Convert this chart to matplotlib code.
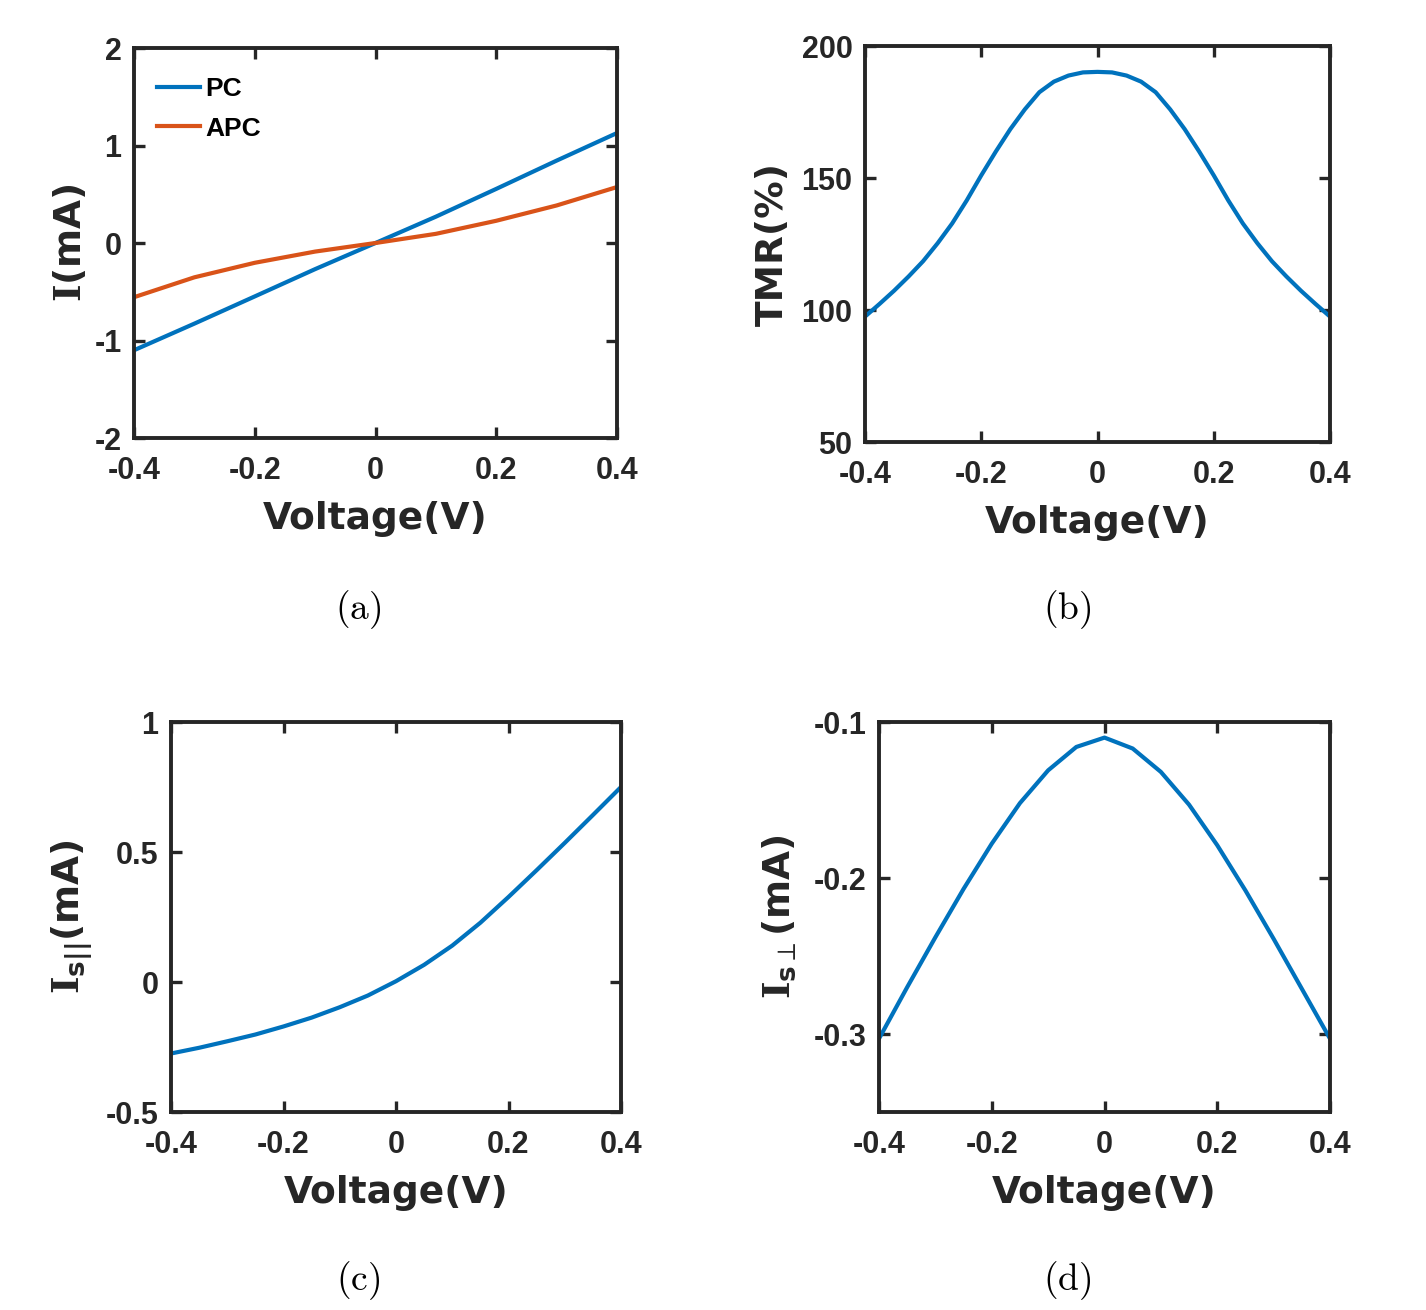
import matplotlib
matplotlib.use("Agg")
import matplotlib.pyplot as plt

# ---------------- data ----------------
v_a = [-0.4, -0.3, -0.2, -0.1, 0.0, 0.1, 0.2, 0.3, 0.4]
i_pc = [-1.10, -0.827, -0.548, -0.268, 0.0, 0.270, 0.555, 0.845, 1.128]
i_apc = [-0.556, -0.352, -0.203, -0.088, 0.0, 0.094, 0.228, 0.385, 0.574]

v_b = [-0.4, -0.375, -0.35, -0.325, -0.3, -0.275, -0.25, -0.225, -0.2,
       -0.175, -0.15, -0.125, -0.1, -0.075, -0.05, -0.025, 0.0,
       0.025, 0.05, 0.075, 0.1, 0.125, 0.15, 0.175, 0.2,
       0.225, 0.25, 0.275, 0.3, 0.325, 0.35, 0.375, 0.4]
tmr = [97.5, 102.3, 107.3, 112.7, 118.5, 125.3, 132.8, 141.5, 151.0,
       160.0, 168.5, 176.0, 182.5, 186.5, 188.8, 190.0, 190.2,
       190.0, 188.8, 186.5, 182.5, 176.0, 168.5, 160.0, 151.0,
       141.5, 132.8, 125.3, 118.5, 112.7, 107.3, 102.3, 97.5]

v_fine = [-0.4, -0.35, -0.3, -0.25, -0.2, -0.15, -0.1, -0.05, 0.0,
          0.05, 0.1, 0.15, 0.2, 0.25, 0.3, 0.35, 0.4]
is_par = [-0.275, -0.253, -0.228, -0.202, -0.171, -0.137, -0.097, -0.052, 0.003,
          0.066, 0.140, 0.228, 0.327, 0.430, 0.535, 0.642, 0.750]
is_perp = [-0.303, -0.270, -0.238, -0.207, -0.178, -0.152, -0.131, -0.116, -0.110,
           -0.117, -0.132, -0.153, -0.179, -0.208, -0.239, -0.271, -0.303]

x_ticks = [-0.4, -0.2, 0.0, 0.2, 0.4]
x_ticklabels = ["-0.4", "-0.2", "0", "0.2", "0.4"]
a_yticks = [-2, -1, 0, 1, 2]
a_yticklabels = ["-2", "-1", "0", "1", "2"]
b_yticks = [50, 100, 150, 200]
b_yticklabels = ["50", "100", "150", "200"]
c_yticks = [-0.5, 0.0, 0.5, 1.0]
c_yticklabels = ["-0.5", "0", "0.5", "1"]
d_yticks = [-0.3, -0.2, -0.1]
d_yticklabels = ["-0.3", "-0.2", "-0.1"]

legend_labels = ["PC", "APC"]
captions = ["(a)", "(b)", "(c)", "(d)"]

# ---------------- style ----------------
BLUE = "#0072BD"
ORANGE = "#D95319"
AXC = "#262626"
LW = 3.0

plt.rcParams["mathtext.fontset"] = "custom"
plt.rcParams["mathtext.bf"] = "DejaVu Serif:bold"
plt.rcParams["mathtext.sf"] = "DejaVu Sans:bold"
plt.rcParams["mathtext.rm"] = "DejaVu Sans:bold"

W, H = 1426, 1310
fig = plt.figure(figsize=(W / 100, H / 100), dpi=100)


def ax_at(l, t, r, b):
    return fig.add_axes([l / W, 1 - b / H, (r - l) / W, (b - t) / H])


tick_font = dict(family="Liberation Sans", weight="bold", size=22)
label_font = dict(family="DejaVu Sans", weight="bold", size=27)


def style(ax, xlim, ylim, yt, ytl, ylabel, ylabelpad=8):
    ax.set_xlim(*xlim)
    ax.set_ylim(*ylim)
    ax.set_xticks(x_ticks)
    ax.set_xticklabels(x_ticklabels, fontdict=tick_font, color=AXC)
    ax.set_yticks(yt)
    ax.set_yticklabels(ytl, fontdict=tick_font, color=AXC)
    for s in ax.spines.values():
        s.set_linewidth(2.8)
        s.set_color(AXC)
    ax.tick_params(direction="in", length=8, width=2.4, color=AXC,
                   top=True, right=True)
    ax.tick_params(axis="x", pad=13)
    ax.tick_params(axis="y", pad=9)
    ax.set_xlabel("Voltage(V)", fontdict=label_font, color=AXC, labelpad=11)
    ax.set_ylabel(ylabel, fontdict=label_font, color=AXC, labelpad=ylabelpad,
                  math_fontfamily="custom")


# (a)
ax1 = ax_at(134, 48, 617, 438)
ax1.plot(v_a, i_pc, color=BLUE, lw=LW, label=legend_labels[0])
ax1.plot(v_a, i_apc, color=ORANGE, lw=LW, label=legend_labels[1])
style(ax1, (-0.4, 0.4), (-2, 2), a_yticks, a_yticklabels, r"$\mathbf{I}$(mA)",
      ylabelpad=4)
ax1.legend(loc="upper left", bbox_to_anchor=(0.047, 0.925), frameon=False,
           handlelength=1.63, handletextpad=0.2, labelspacing=0.58,
           borderpad=0.0, borderaxespad=0.0,
           prop=dict(family="Liberation Sans", weight="bold", size=19))

# (b)
ax2 = ax_at(865, 46, 1330, 442)
ax2.plot(v_b, tmr, color=BLUE, lw=LW)
style(ax2, (-0.4, 0.4), (50, 200), b_yticks, b_yticklabels, "TMR(%)")

# (c)
ax3 = ax_at(171, 722, 621, 1112)
ax3.plot(v_fine, is_par, color=BLUE, lw=LW)
style(ax3, (-0.4, 0.4), (-0.5, 1.0), c_yticks, c_yticklabels,
      r"$\mathbf{I}_{\mathsf{s||}}$(mA)")

# (d)
ax4 = ax_at(879, 722, 1330, 1112)
ax4.plot(v_fine, is_perp, color=BLUE, lw=LW)
style(ax4, (-0.4, 0.4), (-0.35, -0.1), d_yticks, d_yticklabels,
      r"$\mathbf{I}_{\mathsf{s\perp}}$(mA)", ylabelpad=11)

# captions
cap_pos = [(358, 610), (1067, 610), (358, 1281), (1067, 1281)]
for txt, (cx, cy) in zip(captions, cap_pos):
    fig.text(cx / W, 1 - cy / H, r"$\mathrm{" + txt + "}$", ha="center",
             va="center", fontsize=27, math_fontfamily="cm", color="black")

fig.savefig("out.png", dpi=100, facecolor="white")
